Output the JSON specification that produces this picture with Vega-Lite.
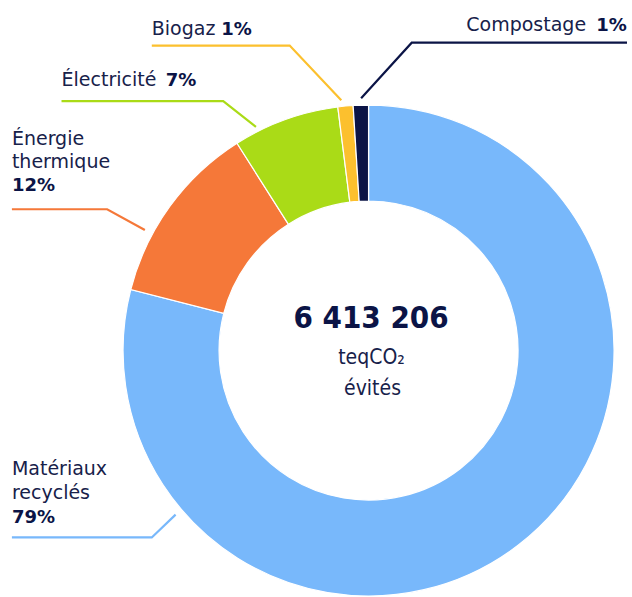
{
  "$schema": "https://vega.github.io/schema/vega-lite/v6.json",
  "width": 632,
  "height": 597,
  "autosize": {"type": "fit", "contains": "padding"},
  "padding": 0,
  "background": "white",
  "config": {"view": {"stroke": null}},
  "datasets": {
    "parts": [
      {"idx": 1, "cat": "Matériaux recyclés", "value": 79},
      {"idx": 2, "cat": "Énergie thermique", "value": 12},
      {"idx": 3, "cat": "Électricité", "value": 7},
      {"idx": 4, "cat": "Biogaz", "value": 1},
      {"idx": 5, "cat": "Compostage", "value": 1}
    ],
    "leaders": [
      {"cat": "Compostage", "step": 1, "x": 364, "y": 99},
      {"cat": "Compostage", "step": 2, "x": 415, "y": 43},
      {"cat": "Compostage", "step": 3, "x": 632, "y": 43},
      {"cat": "Biogaz", "step": 1, "x": 344, "y": 101},
      {"cat": "Biogaz", "step": 2, "x": 292, "y": 46},
      {"cat": "Biogaz", "step": 3, "x": 153, "y": 46},
      {"cat": "Électricité", "step": 1, "x": 258, "y": 128},
      {"cat": "Électricité", "step": 2, "x": 225, "y": 102},
      {"cat": "Électricité", "step": 3, "x": 62, "y": 102},
      {"cat": "Énergie thermique", "step": 1, "x": 146, "y": 232},
      {"cat": "Énergie thermique", "step": 2, "x": 108, "y": 211},
      {"cat": "Énergie thermique", "step": 3, "x": 12, "y": 211},
      {"cat": "Matériaux recyclés", "step": 1, "x": 177, "y": 519},
      {"cat": "Matériaux recyclés", "step": 2, "x": 153, "y": 542},
      {"cat": "Matériaux recyclés", "step": 3, "x": 12, "y": 542}
    ],
    "names": [
      {"text": "Compostage", "x": 470, "y": 31},
      {"text": "Biogaz", "x": 153, "y": 35},
      {"text": "Électricité", "x": 62, "y": 87},
      {"text": "Énergie", "x": 12, "y": 146},
      {"text": "thermique", "x": 12, "y": 169},
      {"text": "Matériaux", "x": 12, "y": 479},
      {"text": "recyclés", "x": 12, "y": 503}
    ],
    "pcts": [
      {"text": "1%", "x": 601, "y": 31},
      {"text": "1%", "x": 223, "y": 35},
      {"text": "7%", "x": 167, "y": 87},
      {"text": "12%", "x": 12, "y": 193},
      {"text": "79%", "x": 12, "y": 527}
    ],
    "center": [
      {"text": "6 413 206", "x": 374, "y": 331, "line": "total"},
      {"text": "teqCO₂", "x": 374.5, "y": 367, "line": "unit"},
      {"text": "évités", "x": 375.5, "y": 398, "line": "unit"}
    ]
  },
  "layer": [
    {
      "data": {"name": "parts"},
      "mark": {"type": "arc", "outerRadius": 245.5, "innerRadius": 149.5, "stroke": "white", "strokeWidth": 1.2},
      "encoding": {
        "theta": {"field": "value", "type": "quantitative", "stack": true},
        "order": {"field": "idx", "type": "quantitative"},
        "color": {
          "field": "cat", "type": "nominal", "legend": null,
          "scale": {
            "domain": ["Matériaux recyclés", "Énergie thermique", "Électricité", "Biogaz", "Compostage"],
            "range": ["#78b8fb", "#f57839", "#aadb17", "#fcc02e", "#0b1446"]
          }
        },
        "x": {"datum": 371.5, "type": "quantitative", "axis": null, "scale": {"domain": [0, 632], "nice": false, "zero": false}},
        "y": {"datum": 353.5, "type": "quantitative", "axis": null, "scale": {"domain": [0, 597], "nice": false, "zero": false, "reverse": true}}
      }
    },
    {
      "data": {"name": "leaders"},
      "mark": {"type": "line", "strokeWidth": 2.2, "strokeJoin": "miter"},
      "encoding": {
        "x": {"field": "x", "type": "quantitative", "axis": null, "scale": {"domain": [0, 632], "nice": false, "zero": false}},
        "y": {"field": "y", "type": "quantitative", "axis": null, "scale": {"domain": [0, 597], "nice": false, "zero": false, "reverse": true}},
        "color": {"field": "cat", "type": "nominal", "legend": null},
        "detail": {"field": "cat"},
        "order": {"field": "step", "type": "quantitative"}
      }
    },
    {
      "data": {"name": "names"},
      "mark": {"type": "text", "align": "left", "baseline": "alphabetic", "font": "DejaVu Sans", "fontSize": 19, "color": "#17214a"},
      "encoding": {
        "x": {"field": "x", "type": "quantitative"},
        "y": {"field": "y", "type": "quantitative"},
        "text": {"field": "text"}
      }
    },
    {
      "data": {"name": "pcts"},
      "mark": {"type": "text", "align": "left", "baseline": "alphabetic", "font": "DejaVu Sans", "fontWeight": "bold", "fontSize": 18, "color": "#0b1446"},
      "encoding": {
        "x": {"field": "x", "type": "quantitative"},
        "y": {"field": "y", "type": "quantitative"},
        "text": {"field": "text"}
      }
    },
    {
      "data": {"name": "center"},
      "transform": [{"filter": "datum.line === 'total'"}],
      "mark": {"type": "text", "align": "center", "baseline": "alphabetic", "font": "'DejaVu Sans Condensed', 'Roboto Condensed', Roboto, sans-serif", "fontWeight": "bold", "fontSize": 31, "color": "#0b1446"},
      "encoding": {
        "x": {"field": "x", "type": "quantitative"},
        "y": {"field": "y", "type": "quantitative"},
        "text": {"field": "text"}
      }
    },
    {
      "data": {"name": "center"},
      "transform": [{"filter": "datum.line === 'unit'"}],
      "mark": {"type": "text", "align": "center", "baseline": "alphabetic", "font": "'DejaVu Sans Condensed', 'Roboto Condensed', Roboto, sans-serif", "fontSize": 21, "color": "#17214a"},
      "encoding": {
        "x": {"field": "x", "type": "quantitative"},
        "y": {"field": "y", "type": "quantitative"},
        "text": {"field": "text"}
      }
    }
  ]
}
